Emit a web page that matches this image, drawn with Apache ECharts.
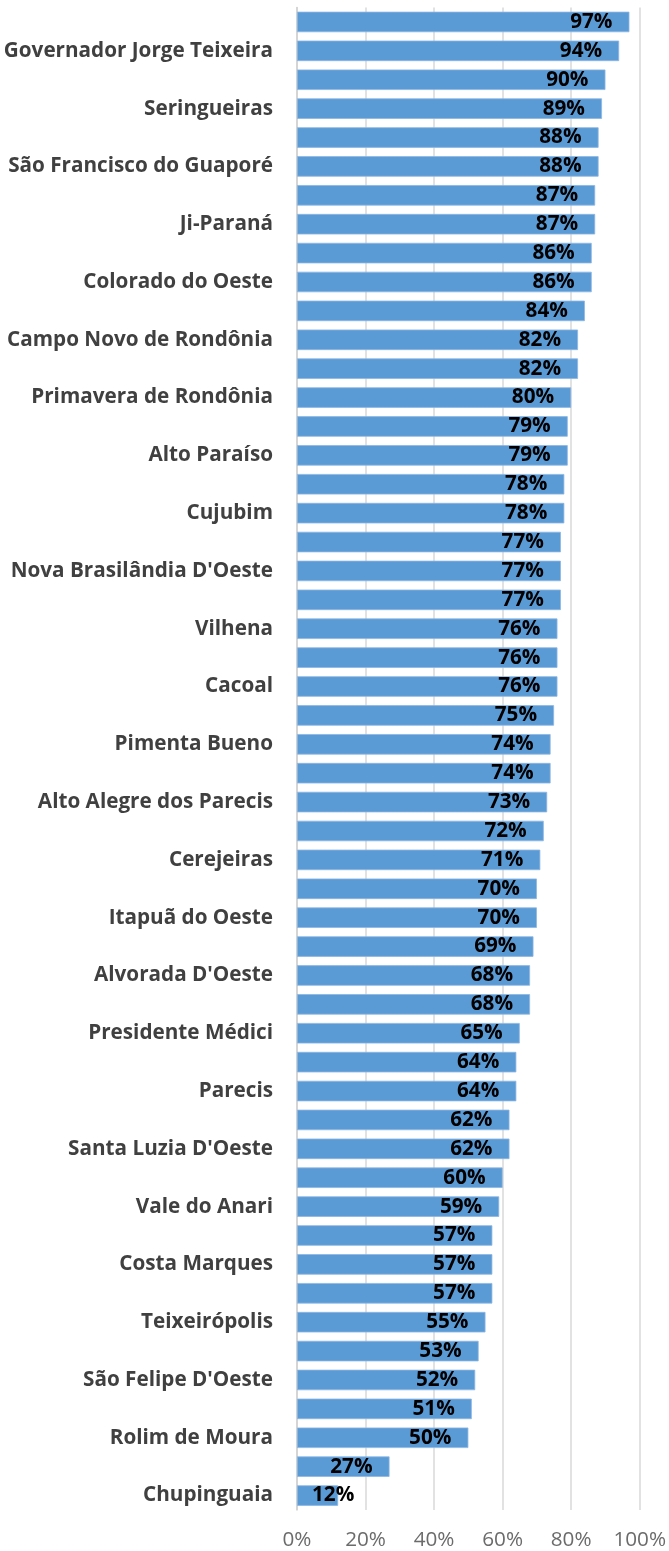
<!DOCTYPE html>
<html>
<head>
<meta charset="utf-8">
<script src="https://cdn.jsdelivr.net/npm/echarts@6/dist/echarts.min.js"></script>
<style>html,body{margin:0;padding:0;background:#fff}#c{width:669px;height:1551px}</style>
</head>
<body>
<div id="c"></div>
<script>
// Categories listed from bottom to top (unlabeled bars have empty names)
const categories = [
  "Chupinguaia", "", "Rolim de Moura", "", "São Felipe D'Oeste", "",
  "Teixeirópolis", "", "Costa Marques", "", "Vale do Anari", "",
  "Santa Luzia D'Oeste", "", "Parecis", "", "Presidente Médici", "",
  "Alvorada D'Oeste", "", "Itapuã do Oeste", "", "Cerejeiras", "",
  "Alto Alegre dos Parecis", "", "Pimenta Bueno", "", "Cacoal", "",
  "Vilhena", "", "Nova Brasilândia D'Oeste", "", "Cujubim", "",
  "Alto Paraíso", "", "Primavera de Rondônia", "", "Campo Novo de Rondônia", "",
  "Colorado do Oeste", "", "Ji-Paraná", "", "São Francisco do Guaporé", "",
  "Seringueiras", "", "Governador Jorge Teixeira", ""
];
// Values (%) in the same bottom-to-top order
const values = [
  12, 27, 50, 51, 52, 53,
  55, 57, 57, 57, 59, 60,
  62, 62, 64, 64, 65, 68,
  68, 69, 70, 70, 71, 72,
  73, 74, 74, 75, 76, 76,
  76, 77, 77, 77, 78, 78,
  79, 79, 80, 82, 82, 84,
  86, 86, 87, 87, 88, 88,
  89, 90, 94, 97
];
const xTicks = { min: 0, max: 100, step: 20 };

const FONT = '"Open Sans"';
const FS = 20.7;
const seriesData = values.map(function (v, i) {
  if (i === 0) {
    return { value: v, label: { position: 'insideLeft', distance: 15 } };
  }
  return v;
});

const chart = echarts.init(document.getElementById('c'), null, { renderer: 'canvas' });
chart.setOption({
  animation: false,
  grid: { left: 297, right: 29, top: 7.5, bottom: 39, containLabel: false },
  xAxis: {
    type: 'value',
    min: xTicks.min, max: xTicks.max, interval: xTicks.step,
    axisLine: { show: false },
    axisTick: { show: false },
    splitLine: { show: true, lineStyle: { color: '#d9d9d9', width: 1.5 } },
    axisLabel: {
      formatter: '{value}%', color: '#6b6b6b', fontFamily: FONT, fontSize: FS, margin: 20
    }
  },
  yAxis: {
    type: 'category',
    data: categories,
    axisLine: { show: true, lineStyle: { color: '#d0d0d0', width: 1.5 } },
    axisTick: { show: false },
    axisLabel: {
      interval: 1, color: '#404040', fontFamily: FONT, fontWeight: 'bold', fontSize: FS, margin: 24
    }
  },
  series: [{
    type: 'bar',
    data: seriesData,
    barCategoryGap: '29%',
    itemStyle: { color: '#5b9bd5', borderColor: '#8db6e3', borderWidth: 0.8 },
    label: {
      show: true, position: 'insideRight', distance: 17,
      formatter: '{c}%', color: '#000', fontFamily: FONT, fontWeight: 'bold', fontSize: FS
    }
  }]
});
</script>
</body>
</html>
